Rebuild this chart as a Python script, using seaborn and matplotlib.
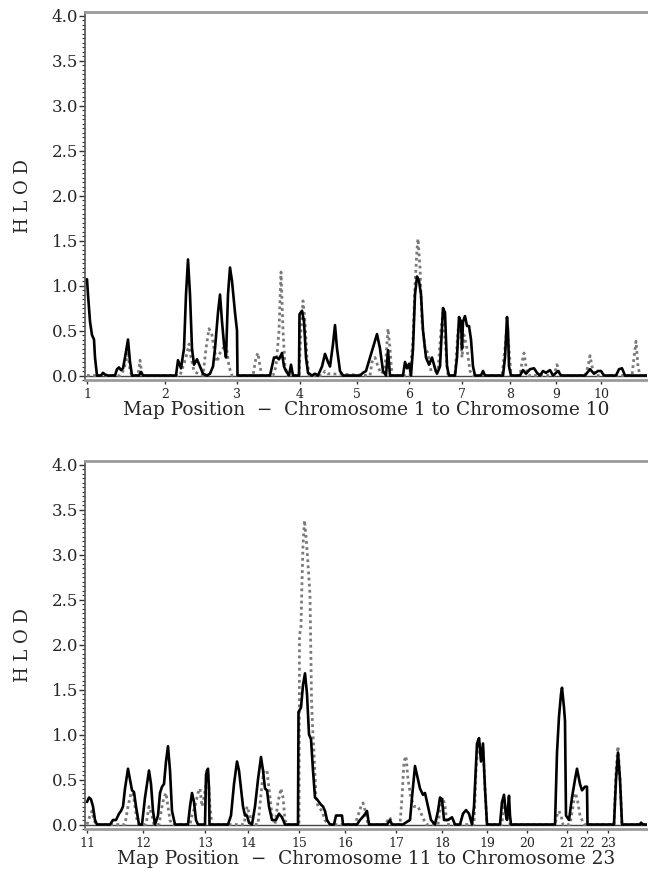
import matplotlib
matplotlib.use("Agg")
import matplotlib.pyplot as plt
from matplotlib.ticker import MultipleLocator
import seaborn as sns
import numpy as np

# ---------------- data (map position, HLOD) ----------------
top_chrom_labels = ["1", "2", "3", "4", "5", "6", "7", "8", "9", "10"]
top_chrom_starts = [87, 165, 237, 300, 357, 409, 462, 510, 556, 601]

bot_chrom_labels = ["11", "12", "13", "14", "15", "16", "17", "18", "19", "20", "21", "22", "23"]
bot_chrom_starts = [87, 143, 205, 248, 299, 345, 396, 442, 487, 527, 567, 587, 608]

top_solid_pos = [87, 88, 90, 92, 94, 95, 97, 101, 103, 105, 108, 115, 117, 119, 121, 123, 125, 128, 130, 132,
                 139, 141, 143, 176, 178, 181, 184, 186, 188, 190, 192, 194, 197, 200, 203, 207, 210, 213, 215,
                 218, 220, 222, 224, 226, 228, 230, 232, 235, 237, 237.5, 258, 270, 272, 274, 277, 279, 282, 284,
                 286, 289, 291, 293, 299, 299.5, 302, 304, 306, 308, 312, 315, 318, 322, 325, 328, 330, 333, 335,
                 337, 340, 343, 360, 363, 366, 370, 374, 377, 380, 383, 386, 388, 390, 403, 405, 407, 409, 411,
                 413, 415, 417, 419, 421, 423, 426, 429, 432, 435, 437, 440, 443, 445, 447, 449, 455, 457, 459,
                 461, 462, 463, 465, 467, 469, 471, 473, 475, 481, 483, 485, 503, 505, 507, 508, 509, 511, 520,
                 523, 526, 530, 534, 537, 540, 543, 546, 550, 553, 558, 561, 585, 590, 594, 598, 601, 604, 616,
                 619, 622, 625, 647]
top_solid_hlod = [1.07, 0.9, 0.6, 0.45, 0.4, 0.2, 0.0, 0.0, 0.03, 0.01, 0.0, 0.0, 0.07, 0.09, 0.06, 0.08, 0.2, 0.4,
                  0.15, 0.0, 0.0, 0.04, 0.0, 0.0, 0.17, 0.08, 0.3, 0.9, 1.29, 0.9, 0.3, 0.12, 0.18, 0.1, 0.02,
                  0.0, 0.02, 0.1, 0.3, 0.7, 0.9, 0.6, 0.35, 0.2, 0.9, 1.2, 1.05, 0.7, 0.5, 0.0, 0.0, 0.0, 0.1,
                  0.2, 0.2, 0.18, 0.25, 0.1, 0.05, 0.0, 0.12, 0.0, 0.0, 0.68, 0.72, 0.6, 0.2, 0.03, 0.0, 0.02,
                  0.0, 0.1, 0.24, 0.15, 0.1, 0.35, 0.56, 0.3, 0.05, 0.0, 0.0, 0.03, 0.05, 0.2, 0.35, 0.46, 0.3,
                  0.05, 0.0, 0.28, 0.0, 0.0, 0.15, 0.08, 0.13, 0.0, 0.3, 0.9, 1.1, 1.05, 0.9, 0.5, 0.2, 0.12,
                  0.2, 0.08, 0.02, 0.1, 0.75, 0.7, 0.1, 0.0, 0.0, 0.2, 0.65, 0.6, 0.3, 0.6, 0.66, 0.55, 0.55,
                  0.4, 0.1, 0.0, 0.0, 0.05, 0.0, 0.0, 0.2, 0.65, 0.5, 0.1, 0.0, 0.0, 0.06, 0.02, 0.07, 0.08,
                  0.03, 0.0, 0.05, 0.03, 0.06, 0.0, 0.05, 0.0, 0.0, 0.07, 0.02, 0.05, 0.05, 0.0, 0.0, 0.07,
                  0.08, 0.0, 0.0]

top_dot_pos = [87, 120, 123, 126, 128, 130, 132, 138, 140, 142, 180, 183, 186, 189, 191, 194, 198, 203, 206, 209,
               212, 214, 217, 220, 223, 226, 229, 232, 253, 256, 258, 260, 262, 273, 276, 279, 281, 283, 285, 288,
               299, 301, 303, 305, 307, 309, 322, 325, 328, 370, 372, 375, 378, 381, 384, 386, 388, 390, 392, 410,
               413, 415, 417, 418, 420, 422, 425, 428, 431, 438, 441, 443, 445, 448, 455, 458, 460, 462, 464, 467,
               470, 473, 502, 505, 507, 509, 511, 520, 522, 524, 526, 528, 554, 557, 560, 585, 588, 590, 592, 595,
               632, 634, 636, 638, 640, 647]
top_dot_hlod = [0.0, 0.0, 0.05, 0.15, 0.3, 0.05, 0.0, 0.0, 0.17, 0.0, 0.0, 0.1, 0.2, 0.35, 0.2, 0.05, 0.02, 0.0,
                0.3, 0.52, 0.45, 0.3, 0.15, 0.25, 0.3, 0.35, 0.1, 0.0, 0.0, 0.2, 0.25, 0.1, 0.0, 0.0, 0.1, 0.5,
                1.15, 0.5, 0.1, 0.0, 0.0, 0.5, 0.83, 0.6, 0.2, 0.0, 0.0, 0.05, 0.02, 0.0, 0.15, 0.2, 0.1, 0.02,
                0.05, 0.2, 0.52, 0.3, 0.0, 0.0, 0.4, 1.0, 1.4, 1.52, 1.2, 0.6, 0.3, 0.25, 0.05, 0.05, 0.5, 0.7,
                0.4, 0.0, 0.0, 0.5, 0.6, 0.2, 0.45, 0.3, 0.05, 0.0, 0.0, 0.3, 0.55, 0.3, 0.0, 0.0, 0.15, 0.25,
                0.1, 0.0, 0.0, 0.12, 0.0, 0.0, 0.1, 0.22, 0.1, 0.0, 0.0, 0.2, 0.38, 0.1, 0.0, 0.0]

bot_solid_pos = [87, 89, 91, 93, 95, 97, 110, 113, 116, 119, 121, 123, 125, 128, 130, 132, 134, 136, 139, 142, 145,
                 149, 151, 153, 155, 158, 160, 162, 164, 166, 168, 170, 172, 175, 188, 190, 192, 194, 196, 198,
                 205, 206, 207, 208, 209, 209.5, 228, 231, 234, 237, 239, 241, 243, 245, 247, 249, 252, 255, 258,
                 261, 263, 265, 267, 269, 272, 276, 279, 282, 285, 298, 298.5, 301, 303, 305, 307, 309, 311, 313,
                 315, 317, 319, 321, 323, 325, 327, 330, 334, 336, 342, 343, 357, 360, 364, 367, 369, 387, 390,
                 392, 403, 407, 410, 412, 415, 418, 420, 423, 425, 428, 431, 435, 438, 440, 442, 444, 448, 452,
                 455, 460, 463, 466, 469, 472, 474, 477, 479, 481, 483, 485, 487, 500, 502, 504, 506, 507, 509,
                 510, 511, 555, 557, 559, 561, 562, 564, 565, 566, 569, 572, 575, 577, 580, 582, 585, 587, 587.5,
                 614, 616, 618, 620, 622, 640, 641, 643, 647]
bot_solid_hlod = [0.25, 0.3, 0.28, 0.2, 0.05, 0.0, 0.0, 0.05, 0.05, 0.12, 0.15, 0.2, 0.4, 0.62, 0.5, 0.38, 0.36,
                  0.2, 0.0, 0.0, 0.3, 0.6, 0.45, 0.15, 0.0, 0.1, 0.35, 0.42, 0.45, 0.7, 0.87, 0.6, 0.15, 0.0,
                  0.0, 0.2, 0.35, 0.25, 0.05, 0.0, 0.0, 0.55, 0.6, 0.62, 0.4, 0.0, 0.0, 0.1, 0.45, 0.7, 0.6, 0.4,
                  0.2, 0.1, 0.1, 0.02, 0.0, 0.2, 0.5, 0.75, 0.6, 0.4, 0.38, 0.2, 0.05, 0.05, 0.12, 0.08, 0.0,
                  0.0, 1.25, 1.3, 1.55, 1.68, 1.45, 1.0, 0.95, 0.6, 0.3, 0.28, 0.25, 0.22, 0.2, 0.15, 0.05, 0.0,
                  0.0, 0.1, 0.1, 0.0, 0.0, 0.05, 0.1, 0.15, 0.0, 0.0, 0.05, 0.0, 0.0, 0.03, 0.05, 0.3, 0.65,
                  0.5, 0.4, 0.33, 0.35, 0.2, 0.05, 0.0, 0.15, 0.3, 0.28, 0.05, 0.05, 0.08, 0.0, 0.0, 0.12, 0.16,
                  0.12, 0.0, 0.2, 0.9, 0.96, 0.7, 0.9, 0.4, 0.0, 0.0, 0.25, 0.33, 0.1, 0.05, 0.32, 0.1, 0.0,
                  0.0, 0.8, 1.2, 1.45, 1.52, 1.3, 1.15, 0.1, 0.05, 0.3, 0.5, 0.62, 0.45, 0.38, 0.42, 0.42, 0.0,
                  0.0, 0.5, 0.8, 0.5, 0.0, 0.0, 0.02, 0.0, 0.0]

bot_dot_pos = [87, 90, 92, 94, 96, 125, 128, 131, 133, 135, 137, 139, 146, 149, 152, 154, 159, 162, 164, 166, 168,
               170, 172, 190, 192, 195, 198, 200, 202, 204, 206, 208, 210, 212, 244, 247, 250, 252, 258, 262, 264,
               267, 269, 272, 275, 278, 281, 283, 285, 287, 298, 299, 299.5, 301, 302, 303, 304.5, 306, 308, 310,
               311.5, 312.5, 314, 316, 318, 322, 325, 328, 355, 358, 361, 363, 366, 368, 385, 388, 390, 392, 400,
               402, 404, 406, 408, 411, 414, 418, 422, 426, 438, 441, 443, 445, 447, 474, 476, 478, 479, 481, 483,
               485, 487, 502, 504, 506, 508, 510, 555, 557, 559, 561, 563, 570, 573, 575, 577, 580, 582, 584, 614,
               616, 618, 620, 622, 647]
bot_dot_hlod = [0.0, 0.1, 0.15, 0.05, 0.0, 0.0, 0.2, 0.35, 0.35, 0.2, 0.05, 0.0, 0.0, 0.2, 0.1, 0.0, 0.0, 0.2, 0.3,
                0.35, 0.2, 0.05, 0.0, 0.0, 0.1, 0.2, 0.35, 0.4, 0.2, 0.3, 0.45, 0.55, 0.2, 0.0, 0.0, 0.2, 0.1,
                0.0, 0.0, 0.45, 0.6, 0.6, 0.4, 0.1, 0.0, 0.25, 0.4, 0.3, 0.05, 0.0, 0.0, 0.0, 2.1, 2.2, 2.7, 3.1,
                3.38, 3.2, 2.9, 2.55, 1.4, 1.1, 0.8, 0.3, 0.2, 0.15, 0.05, 0.0, 0.0, 0.1, 0.2, 0.24, 0.12, 0.0,
                0.0, 0.05, 0.08, 0.0, 0.0, 0.3, 0.7, 0.76, 0.5, 0.3, 0.2, 0.2, 0.1, 0.0, 0.0, 0.25, 0.3, 0.2,
                0.0, 0.0, 0.6, 0.9, 0.95, 0.8, 0.85, 0.4, 0.0, 0.0, 0.3, 0.1, 0.2, 0.0, 0.0, 0.1, 0.15, 0.1, 0.0,
                0.0, 0.2, 0.35, 0.3, 0.1, 0.05, 0.0, 0.0, 0.6, 0.87, 0.5, 0.0, 0.0]

top_xlabel = "Map Position  \u2212  Chromosome 1 to Chromosome 10"
bot_xlabel = "Map Position  \u2212  Chromosome 11 to Chromosome 23"
ylabel = "H L O D"
ytick_vals = [0.0, 0.5, 1.0, 1.5, 2.0, 2.5, 3.0, 3.5, 4.0]

# ---------------- drawing ----------------
sns.set_style("ticks")
plt.rcParams["font.family"] = ["DejaVu Serif"]
plt.rcParams["axes.linewidth"] = 1.2

W, H = 648, 871
fig = plt.figure(figsize=(W / 100, H / 100), dpi=100)

def px_axes(left, top, right, bottom):
    return fig.add_axes([left / W, 1 - bottom / H, (right - left) / W, (bottom - top) / H])

ax_top = px_axes(85, 12, 647, 380)
ax_bot = px_axes(85, 461, 647, 829)

panels = [
    (ax_top, top_solid_pos, top_solid_hlod, top_dot_pos, top_dot_hlod, top_chrom_starts, top_chrom_labels, top_xlabel),
    (ax_bot, bot_solid_pos, bot_solid_hlod, bot_dot_pos, bot_dot_hlod, bot_chrom_starts, bot_chrom_labels, bot_xlabel),
]

for ax, sx, sy, dx, dy, starts, labels, xlab in panels:
    ax.axhline(0, color="#444444", lw=1.0, zorder=1)
    sns.lineplot(x=dx, y=dy, ax=ax, sort=False, estimator=None, color="#7a7a7a",
                 lw=2.0, linestyle=(0, (1, 1.2)), zorder=2)
    sns.lineplot(x=sx, y=sy, ax=ax, sort=False, estimator=None, color="black",
                 lw=1.9, zorder=3)
    ax.set_xlim(85, 647)
    ax.set_ylim(-0.05, 4.04)
    ax.set_yticks(ytick_vals)
    ax.set_yticklabels([f"{v:.1f}" for v in ytick_vals], fontsize=12)
    ax.yaxis.set_minor_locator(MultipleLocator(0.05))
    ax.tick_params(axis="y", which="major", length=4, width=1, pad=1, color="#333333")
    ax.tick_params(axis="y", which="minor", length=2, width=0.8, color="#333333")
    ax.set_xticks(starts)
    ax.set_xticklabels(labels, fontsize=9)
    ax.tick_params(axis="x", length=3, width=1, pad=3, color="#333333")
    ax.set_xlabel(xlab, fontsize=13.3, labelpad=0)
    ax.set_ylabel(ylabel, fontsize=13, labelpad=14)
    for side in ["top", "bottom"]:
        ax.spines[side].set_color("#9a9a9a")
        ax.spines[side].set_linewidth(2.0)
    ax.spines["left"].set_color("#555555")
    ax.spines["left"].set_linewidth(1.2)
    ax.spines["right"].set_visible(False)
    ax.set_facecolor("white")

fig.savefig("out.png", dpi=100, facecolor="white")
